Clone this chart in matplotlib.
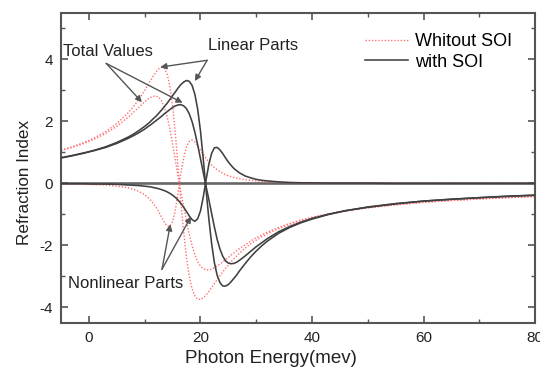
"""Refraction index vs photon energy, with and without SOI (linear, nonlinear, total)."""

import matplotlib
matplotlib.use("Agg")
import matplotlib.pyplot as plt

plt.rcParams["font.family"] = ["Liberation Sans", "DejaVu Sans"]
plt.rcParams["axes.unicode_minus"] = False  # original uses a plain hyphen

# photon energy grid (meV) shared by all curves
energy = [-5, -3, -1, 1, 3, 5, 7, 8, 9, 10, 10.5, 11, 11.5, 12, 12.5, 13, 13.5, 14, 14.5,
          15, 15.5, 16, 16.5, 17, 17.5, 18, 18.5, 19, 19.5, 20, 20.5, 21, 21.5, 22, 22.5,
          23, 23.5, 24, 24.5, 25, 25.5, 26, 26.5, 27, 28, 29, 30, 31, 32, 34, 36, 38, 40,
          43, 46, 50, 55, 60, 65, 70, 75, 80]

# without SOI (red dotted)
lin_no_soi = [1.07, 1.18, 1.31, 1.47, 1.67, 1.93, 2.27, 2.48, 2.72, 3.00, 3.15, 3.30, 3.45,
              3.58, 3.69, 3.75, 3.71, 3.54, 3.16, 2.52, 1.61, 0.48, -0.62, -1.59, -2.40,
              -3.00, -3.40, -3.63, -3.74, -3.74, -3.69, -3.60, -3.49, -3.36, -3.23, -3.10,
              -2.98, -2.85, -2.74, -2.63, -2.52, -2.43, -2.34, -2.25, -2.09, -1.95, -1.83,
              -1.72, -1.62, -1.46, -1.32, -1.21, -1.11, -0.99, -0.89, -0.79, -0.69, -0.61,
              -0.55, -0.50, -0.46, -0.42]
nl_no_soi = [-0.01, -0.02, -0.03, -0.04, -0.05, -0.09, -0.14, -0.19, -0.26, -0.37, -0.44,
             -0.53, -0.64, -0.76, -0.91, -1.08, -1.24, -1.37, -1.39, -1.24, -0.86, -0.27,
             0.34, 0.83, 1.18, 1.36, 1.40, 1.33, 1.22, 1.08, 0.94, 0.81, 0.69, 0.59, 0.51,
             0.44, 0.38, 0.33, 0.28, 0.25, 0.22, 0.19, 0.17, 0.15, 0.12, 0.10, 0.08, 0.06,
             0.05, 0.04, 0.03, 0.02, 0.02, 0.01, 0.01, 0.01, 0, 0, 0, 0, 0, 0]
tot_no_soi = [1.06, 1.16, 1.28, 1.43, 1.61, 1.84, 2.13, 2.29, 2.46, 2.63, 2.71, 2.77, 2.81,
              2.82, 2.78, 2.67, 2.47, 2.17, 1.77, 1.28, 0.75, 0.21, -0.28, -0.76, -1.21,
              -1.64, -2.01, -2.30, -2.52, -2.67, -2.75, -2.79, -2.79, -2.77, -2.72, -2.66,
              -2.60, -2.53, -2.46, -2.38, -2.31, -2.24, -2.17, -2.10, -1.98, -1.86, -1.75,
              -1.66, -1.57, -1.42, -1.29, -1.18, -1.09, -0.98, -0.88, -0.78, -0.69, -0.61,
              -0.55, -0.50, -0.46, -0.42]

# with SOI (dark solid)
lin_soi = [0.83, 0.90, 0.98, 1.07, 1.18, 1.32, 1.49, 1.59, 1.71, 1.84, 1.91, 1.99, 2.08,
           2.16, 2.26, 2.36, 2.47, 2.58, 2.70, 2.83, 2.95, 3.08, 3.19, 3.27, 3.32, 3.29,
           3.16, 2.87, 2.39, 1.69, 0.79, -0.20, -1.14, -1.94, -2.56, -2.97, -3.20, -3.31,
           -3.31, -3.26, -3.17, -3.06, -2.95, -2.82, -2.59, -2.37, -2.18, -2.01, -1.86,
           -1.61, -1.42, -1.27, -1.15, -1.00, -0.88, -0.77, -0.66, -0.57, -0.51, -0.46,
           -0.42, -0.38]
nl_soi = [-0.01, -0.01, -0.01, -0.02, -0.02, -0.03, -0.05, -0.06, -0.07, -0.09, -0.10,
          -0.11, -0.13, -0.15, -0.17, -0.20, -0.23, -0.27, -0.32, -0.38, -0.45, -0.54,
          -0.65, -0.77, -0.91, -1.05, -1.17, -1.22, -1.14, -0.89, -0.44, 0.11, 0.61, 0.97,
          1.15, 1.16, 1.08, 0.96, 0.82, 0.69, 0.58, 0.48, 0.41, 0.34, 0.24, 0.18, 0.13,
          0.10, 0.08, 0.05, 0.03, 0.02, 0.02, 0.01, 0.01, 0.01, 0, 0, 0, 0, 0, 0]
tot_soi = [0.82, 0.89, 0.97, 1.06, 1.16, 1.29, 1.45, 1.54, 1.64, 1.75, 1.82, 1.88, 1.95,
           2.02, 2.09, 2.16, 2.24, 2.31, 2.38, 2.45, 2.50, 2.53, 2.54, 2.50, 2.41, 2.24,
           1.99, 1.65, 1.24, 0.80, 0.35, -0.09, -0.52, -0.97, -1.41, -1.81, -2.12, -2.35,
           -2.50, -2.57, -2.59, -2.58, -2.54, -2.48, -2.34, -2.19, -2.04, -1.91, -1.78,
           -1.56, -1.39, -1.25, -1.13, -0.99, -0.88, -0.76, -0.65, -0.57, -0.51, -0.46,
           -0.41, -0.38]

RED = "#ff7070"
DARK = "#404040"
AX = "#555555"

fig, ax = plt.subplots(figsize=(5.4, 3.67), dpi=100)
fig.subplots_adjust(left=0.113, right=0.991, bottom=0.12, top=0.965)

ax.axhline(0, color="#666666", lw=1.9, zorder=1)

for i, ys in enumerate([lin_no_soi, nl_no_soi, tot_no_soi]):
    ax.plot(energy, ys, color=RED, ls=(0, (1, 1.3)), lw=1.0,
            label="Whitout SOI" if i == 0 else None, zorder=2)
for i, ys in enumerate([lin_soi, nl_soi, tot_soi]):
    ax.plot(energy, ys, color=DARK, ls="-", lw=1.15,
            label="with SOI" if i == 0 else None, zorder=3)

ax.set_xlim(-5, 80)
ax.set_ylim(-4.5, 5.5)
ax.set_xticks([0, 20, 40, 60, 80])
ax.set_yticks([-4, -2, 0, 2, 4])
ax.set_xticks([10, 30, 50, 70], minor=True)
ax.set_yticks([-3, -1, 1, 3, 5], minor=True)
ax.tick_params(which="both", direction="in", top=True, right=True, color=AX,
               labelsize=11, labelcolor="#222222")
ax.tick_params(which="major", length=5, width=1.2, pad=6)
ax.tick_params(which="minor", length=3, width=1.0)
for s in ax.spines.values():
    s.set_color(AX)
    s.set_linewidth(1.5)

# labels sit a little left of / below centre in the original
ax.set_xlabel("Photon Energy(mev)", fontsize=13.5, color="#222222")
ax.xaxis.set_label_coords(0.443, -0.088)
ax.set_ylabel("Refraction Index", fontsize=12.3, color="#222222")
ax.yaxis.set_label_coords(-0.062, 0.452)

# annotations
arrow = dict(arrowstyle="-|>", color="#555555", lw=1.0, mutation_scale=9,
             shrinkA=0, shrinkB=0)
txt = dict(fontsize=12, color="#222222", va="center")
ax.text(-4.7, 4.26, "Total Values", ha="left", **txt)
for tip in [(9.5, 2.62), (16.8, 2.6)]:
    ax.annotate("", xy=tip, xytext=(3.1, 3.87), arrowprops=arrow)
ax.text(21.4, 4.45, "Linear Parts", ha="left", **txt)
for tip in [(12.8, 3.75), (19.0, 3.3)]:
    ax.annotate("", xy=tip, xytext=(21.2, 3.97), arrowprops=arrow)
ax.text(-3.8, -3.23, "Nonlinear Parts", ha="left", **txt)
for tip in [(14.6, -1.32), (18.3, -1.07)]:
    ax.annotate("", xy=tip, xytext=(13.1, -2.77), arrowprops=arrow)

ax.legend(loc="upper right", bbox_to_anchor=(0.951, 0.935), frameon=False,
          fontsize=13, handlelength=2.4, handletextpad=0.35, labelspacing=0.2,
          borderpad=0, borderaxespad=0)

fig.savefig("out.png", dpi=100)
